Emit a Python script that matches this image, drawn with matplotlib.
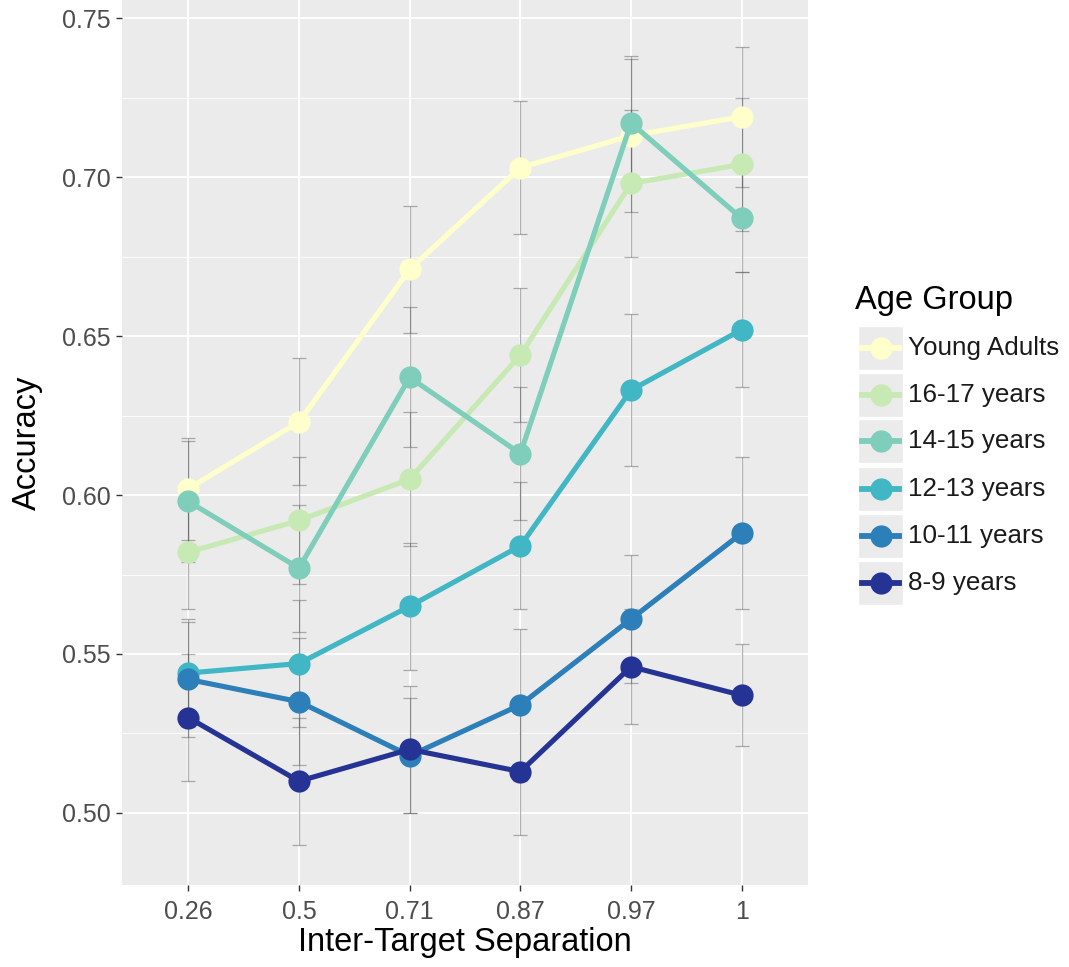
import matplotlib.pyplot as plt
from matplotlib.lines import Line2D
from matplotlib.patches import Rectangle
import numpy as np

plt.rcParams['font.family'] = ['Liberation Sans', 'DejaVu Sans']

# ---------- data ----------
separations = ['0.26', '0.5', '0.71', '0.87', '0.97', '1']
groups = ['Young Adults', '16-17 years', '14-15 years', '12-13 years', '10-11 years', '8-9 years']
colors = ['#FFFFCC', '#C7E9B4', '#7FCDBB', '#41B6C4', '#2C7FB8', '#253494']

young_adults = [0.602, 0.623, 0.671, 0.703, 0.713, 0.719]
age_16_17 = [0.582, 0.592, 0.605, 0.644, 0.698, 0.704]
age_14_15 = [0.598, 0.577, 0.637, 0.613, 0.717, 0.687]
age_12_13 = [0.544, 0.547, 0.565, 0.584, 0.633, 0.652]
age_10_11 = [0.542, 0.535, 0.518, 0.534, 0.561, 0.588]
age_8_9 = [0.530, 0.510, 0.520, 0.513, 0.546, 0.537]

err_young = [0.016, 0.020, 0.020, 0.021, 0.024, 0.022]
err_16_17 = [0.018, 0.020, 0.021, 0.021, 0.023, 0.021]
err_14_15 = [0.019, 0.020, 0.022, 0.021, 0.021, 0.017]
err_12_13 = [0.017, 0.020, 0.020, 0.020, 0.024, 0.018]
err_10_11 = [0.018, 0.020, 0.018, 0.024, 0.020, 0.024]
err_8_9 = [0.020, 0.020, 0.020, 0.020, 0.018, 0.016]

series = [young_adults, age_16_17, age_14_15, age_12_13, age_10_11, age_8_9]
errors = [err_young, err_16_17, err_14_15, err_12_13, err_10_11, err_8_9]

# ---------- figure ----------
fig = plt.figure(figsize=(10.69, 9.67), dpi=100)
ax = fig.add_axes([0.114, 0.085, 0.642, 0.915])
ax.set_facecolor('#EBEBEB')
for s in ax.spines.values():
    s.set_visible(False)

x = np.arange(len(separations))

# error bars first
for vals, err in zip(series, errors):
    ax.errorbar(x, vals, yerr=err, fmt='none', ecolor='#555555', alpha=0.45,
                elinewidth=0.9, capsize=5, capthick=0.9, zorder=2)

for vals, col in zip(series, colors):
    ax.plot(x, vals, color=col, lw=3.7, marker='o', markersize=16,
            markeredgewidth=0, zorder=3)

ax.set_xlim(-0.6, 5.6)
ax.set_ylim(0.4774, 0.7557)
ax.set_xticks(x)
ax.set_xticklabels(separations)
ax.set_yticks([0.50, 0.55, 0.60, 0.65, 0.70, 0.75])
ax.set_yticklabels(['0.50', '0.55', '0.60', '0.65', '0.70', '0.75'])
ax.set_yticks([0.525, 0.575, 0.625, 0.675, 0.725], minor=True)
ax.grid(which='major', color='white', lw=1.3, zorder=0)
ax.grid(which='minor', axis='y', color='white', lw=0.6, zorder=0)
ax.set_axisbelow(True)
ax.tick_params(which='major', length=4.3, color='#333333', labelsize=18,
               labelcolor='#4D4D4D', width=1.0, pad=4)
ax.tick_params(axis='x', pad=6.5)
ax.tick_params(which='minor', length=0)

ax.set_xlabel('Inter-Target Separation', fontsize=23.5)
ax.xaxis.label.set_va('center')
ax.xaxis.set_label_coords(0.5, (885 - 943) / 885)
ax.set_ylabel('Accuracy', fontsize=23.5)
ax.yaxis.label.set_va('center')
ax.yaxis.set_label_coords((28 - 122) / 686, 0.5)

# ---------- legend ----------
W, H = 1069, 967
fig.text(855 / W, 1 - 300 / H, 'Age Group', fontsize=23.5, va='center', ha='left')
key_y = [348, 395, 441, 489, 536, 583]
for yy, lab, col in zip(key_y, groups, colors):
    fig.patches.append(Rectangle((858 / W, 1 - (yy + 22) / H), 45 / W, 44 / H,
                                 transform=fig.transFigure, facecolor='#EBEBEB',
                                 edgecolor='white', lw=1.0))
    fig.lines.append(Line2D([862 / W, 899 / W], [1 - yy / H, 1 - yy / H],
                            transform=fig.transFigure, color=col, lw=4.2))
    fig.lines.append(Line2D([880.5 / W], [1 - yy / H], transform=fig.transFigure,
                            color=col, marker='o', markersize=16, markeredgewidth=0))
    fig.text(908 / W, 1 - yy / H, lab, fontsize=18.7, va='center', ha='left',
             color='#1A1A1A')

fig.savefig('out.png', dpi=100)
